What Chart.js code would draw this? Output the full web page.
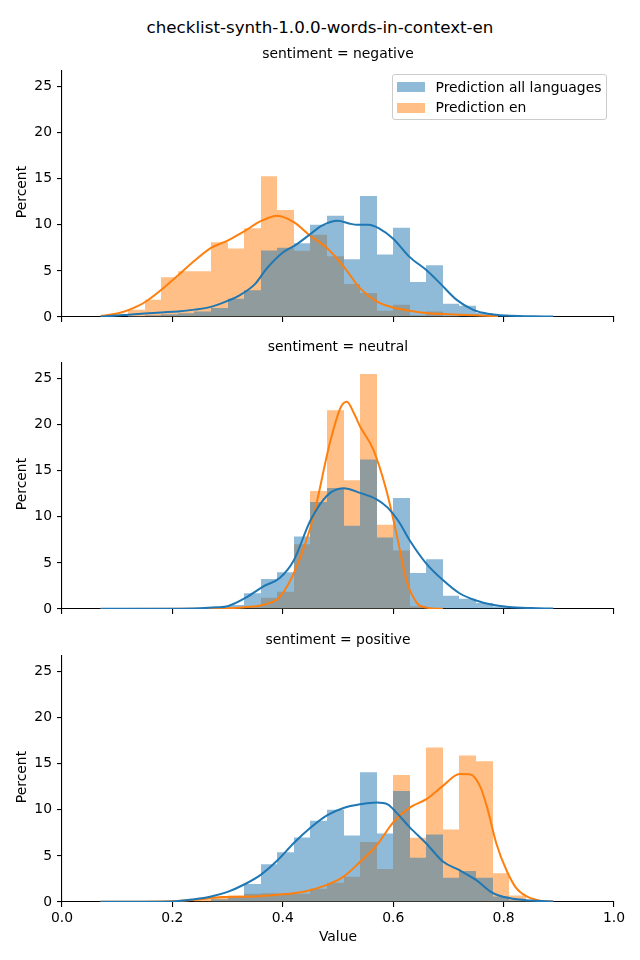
<!DOCTYPE html>
<html><head><meta charset="utf-8">
<script src="https://cdn.jsdelivr.net/npm/chart.js@4.4.1/dist/chart.umd.min.js"></script>
<style>
html,body{margin:0;padding:0;background:#fff;}
#fig{position:relative;width:640px;height:960px;overflow:hidden;font-family:'DejaVu Sans',sans-serif;color:#000;}
canvas{position:absolute;left:0;}
.t{position:absolute;white-space:nowrap;transform:translate(-50%,-50%);line-height:1;z-index:5;}
.rot{transform:translate(-50%,-50%) rotate(-90deg);}
#legend{position:absolute;left:391.5px;top:74px;width:215px;height:46px;border:1px solid #cccccc;border-radius:3px;background:rgba(255,255,255,0.8);box-sizing:border-box;z-index:6;}
.patch{position:absolute;left:4.5px;width:28px;height:10px;}
.ltxt{position:absolute;left:43px;font-size:13.9px;line-height:1;white-space:nowrap;transform:translateY(-50%);}
</style>
</head><body>
<div id="fig">
  <canvas id="c0" width="640" height="300" style="top:57px"></canvas>
  <canvas id="c1" width="640" height="300" style="top:349px"></canvas>
  <canvas id="c2" width="640" height="300" style="top:642px"></canvas>
  <div class="t" style="left:320px;top:27px;font-size:16.7px;">checklist-synth-1.0.0-words-in-context-en</div>
  <div class="t" style="left:338px;top:54px;font-size:13.9px;">sentiment = negative</div>
  <div class="t" style="left:338px;top:346.5px;font-size:13.9px;">sentiment = neutral</div>
  <div class="t" style="left:338px;top:639.5px;font-size:13.9px;">sentiment = positive</div>
  <div class="t rot" style="left:22px;top:192px;font-size:13.9px;">Percent</div>
  <div class="t rot" style="left:22px;top:484px;font-size:13.9px;">Percent</div>
  <div class="t rot" style="left:22px;top:777px;font-size:13.9px;">Percent</div>
  <div class="t" style="left:338px;top:937px;font-size:13.9px;">Value</div>
  <div id="legend">
    <div class="patch" style="top:7px;background:rgba(31,119,180,0.5);"></div>
    <div class="ltxt" style="top:12.5px;">Prediction all languages</div>
    <div class="patch" style="top:27.5px;background:rgba(255,127,14,0.5);"></div>
    <div class="ltxt" style="top:33px;">Prediction en</div>
  </div>
</div>
<script>
// ---- data ----
const binCenters = [0.135,0.165,0.195,0.225,0.255,0.285,0.315,0.345,0.375,0.405,0.435,0.465,0.495,0.525,0.555,0.585,0.615,0.645,0.675,0.705,0.735,0.765,0.795,0.825,0.855];

const negAllBars = [0.1,0.2,0.3,0.4,0.6,0.97,1.97,2.9,7.22,7.51,8.0,10.0,10.98,6.26,13.12,6.79,9.69,3.79,5.61,1.43,1.22,0.43,0.2,0.1,0.05];
const negEnBars  = [0.8,1.86,4.32,4.97,4.97,8.11,7.44,9.62,15.27,11.62,7.19,8.94,6.58,3.57,2.61,0.68,1.32,0.2,0.6,0.1,0,0,0,0,0];
const neuAllBars = [0,0,0,0,0,0.05,0.43,1.7,3.25,4.0,7.86,11.62,13.12,9.04,16.23,7.76,12.05,3.9,5.4,1.43,1.1,0.64,0.28,0.1,0.05];
const neuEnBars  = [0,0,0,0,0,0,0.1,0.3,1.21,1.86,7.04,12.8,21.57,13.98,25.5,9.15,6.36,0.3,0,0,0,0,0,0,0];
const posAllBars = [0,0,0,0,0,0.3,0.6,1.96,4.1,5.4,7.0,8.83,10.01,7.22,14.09,7.44,12.05,4.79,7.33,2.64,3.36,2.64,0.6,0.2,0.1];
const posEnBars  = [0,0,0,0,0.3,0.6,0.7,0.9,0.96,0.9,0.9,1.43,2.1,2.75,6.5,3.57,13.77,6.97,16.77,7.86,15.91,15.27,3.11,0.71,0.1];

const negAllKdeX = [0.07,0.10,0.12,0.15,0.18,0.21,0.24,0.27,0.30,0.32,0.35,0.37,0.40,0.42,0.43,0.45,0.47,0.50,0.52,0.535,0.555,0.575,0.60,0.63,0.66,0.685,0.715,0.745,0.775,0.805,0.85,0.89];
const negAllKdeY = [0.05,0.15,0.25,0.38,0.5,0.6,0.8,1.1,1.75,2.3,3.6,5.2,7.0,7.7,8.1,9.0,9.9,10.45,10.15,10.0,10.0,9.6,8.5,6.5,5.1,3.65,1.86,0.78,0.32,0.15,0.08,0.05];
const negEnKdeX  = [0.07,0.10,0.12,0.15,0.18,0.21,0.24,0.27,0.30,0.33,0.36,0.39,0.42,0.45,0.48,0.51,0.54,0.57,0.60,0.63,0.66,0.69,0.72,0.75,0.78,0.79];
const negEnKdeY  = [0.1,0.38,0.75,1.6,2.95,4.5,6.1,7.5,8.3,9.3,10.4,11.0,10.3,8.8,7.5,5.5,3.1,1.7,1.03,0.68,0.43,0.32,0.25,0.18,0.1,0.06];

const neuAllKdeX = [0.07,0.20,0.25,0.28,0.30,0.335,0.365,0.395,0.42,0.45,0.48,0.51,0.54,0.57,0.59,0.61,0.63,0.66,0.69,0.72,0.75,0.78,0.81,0.85,0.89];
const neuAllKdeY = [0.02,0.03,0.08,0.18,0.3,1.3,2.45,3.4,5.3,9.6,12.3,13.1,12.6,11.9,11.0,9.5,7.44,4.93,3.14,1.71,0.92,0.46,0.21,0.1,0.05];
const neuEnKdeX  = [0.07,0.25,0.30,0.33,0.365,0.395,0.425,0.455,0.486,0.505,0.516,0.53,0.54,0.564,0.588,0.606,0.624,0.643,0.66,0.69];
const neuEnKdeY  = [0.0,0.02,0.08,0.2,0.46,1.35,4.57,9.94,18.2,21.9,22.5,21.1,19.8,17.3,12.8,8.15,3.14,0.64,0.15,0.02];

const posAllKdeX = [0.07,0.20,0.24,0.27,0.30,0.33,0.36,0.39,0.42,0.45,0.48,0.51,0.54,0.57,0.59,0.606,0.63,0.66,0.69,0.72,0.75,0.78,0.81,0.85,0.89];
const posAllKdeY = [0.02,0.06,0.3,0.6,1.1,1.9,2.95,4.5,6.4,8.05,9.4,10.2,10.6,10.8,10.6,9.7,8.1,6.35,4.4,3.45,2.4,1.0,0.43,0.15,0.05];
const posEnKdeX  = [0.07,0.20,0.25,0.29,0.35,0.39,0.44,0.48,0.51,0.54,0.57,0.60,0.63,0.66,0.69,0.72,0.74,0.757,0.77,0.787,0.805,0.823,0.842,0.866,0.89];
const posEnKdeY  = [0.02,0.08,0.3,0.55,0.6,0.78,1.15,1.86,2.75,4.36,6.15,8.65,10.25,11.16,12.6,13.9,13.85,12.6,10.3,6.33,3.47,1.5,0.6,0.15,0.05];

const xTickValues = [0, 0.2, 0.4, 0.6, 0.8, 1.0];
const xTickLabels = ['0.0', '0.2', '0.4', '0.6', '0.8', '1.0'];
const yTickValues = [0, 5, 10, 15, 20, 25];
const yTickLabels = ['0', '5', '10', '15', '20', '25'];
const yMax = 26.77;

// ---- drawing ----
Chart.defaults.font.family = "'DejaVu Sans', sans-serif";
Chart.defaults.font.size = 13.9;
Chart.defaults.color = '#000';

const BLUE = '#1f77b4', ORANGE = '#ff7f0e';
const BLUE_A = 'rgba(31,119,180,0.5)', ORANGE_A = 'rgba(255,127,14,0.5)';

function pts(xs, ys) { return xs.map((x, i) => ({x: x, y: ys[i]})); }
function bars(vals) { return binCenters.map((c, i) => ({x: c, y: vals[i]})); }

// snap bar edges to whole pixels (like matplotlib) so adjacent translucent bars show no seams
const snapBars = {
  id: 'snapBars',
  afterDatasetsUpdate(chart) {
    chart.getSortedVisibleDatasetMetas().forEach(meta => {
      if (meta.type !== 'bar') return;
      meta.data.forEach(el => {
        const l = Math.round(el.x - el.width / 2);
        const r = Math.round(el.x + el.width / 2);
        el.x = (l + r) / 2;
        el.width = r - l;
      });
    });
  }
};

function makePanel(id, allBars, enBars, aX, aY, eX, eY, showX) {
  const ctx = document.getElementById(id).getContext('2d');
  return new Chart(ctx, {
    type: 'bar',
    data: {
      datasets: [
        {type: 'line', data: pts(aX, aY), borderColor: BLUE, borderWidth: 2, pointRadius: 0,
         cubicInterpolationMode: 'monotone', fill: false, order: 0},
        {type: 'line', data: pts(eX, eY), borderColor: ORANGE, borderWidth: 2, pointRadius: 0,
         cubicInterpolationMode: 'monotone', fill: false, order: 1},
        {type: 'bar', label: 'Prediction all languages', data: bars(allBars), backgroundColor: BLUE_A,
         borderWidth: 0, barPercentage: 1, categoryPercentage: 1, grouped: false, inflateAmount: 0, order: 2},
        {type: 'bar', label: 'Prediction en', data: bars(enBars), backgroundColor: ORANGE_A,
         borderWidth: 0, barPercentage: 1, categoryPercentage: 1, grouped: false, inflateAmount: 0, order: 3}
      ]
    },
    plugins: [snapBars],
    options: {
      responsive: false,
      animation: false,
      devicePixelRatio: 1,
      layout: {padding: {top: 10, right: 26, left: 0, bottom: 0}},
      plugins: {legend: {display: false}, tooltip: {enabled: false}, title: {display: false}},
      scales: {
        x: {
          type: 'linear', min: 0, max: 1, offset: false,
          grid: {offset: false, drawOnChartArea: false, drawTicks: true, tickLength: 5, color: '#000', lineWidth: 1.1},
          border: {display: true, color: '#000', width: 1.1},
          ticks: {padding: 3, maxRotation: 0, autoSkip: false,
                  callback: (v, i) => showX ? xTickLabels[i] : ''},
          afterBuildTicks: s => { s.ticks = xTickValues.map(v => ({value: v})); },
          afterFit: s => { s.height = 40; }
        },
        y: {
          type: 'linear', min: 0, max: yMax,
          grid: {drawOnChartArea: false, drawTicks: true, tickLength: 5, color: '#000', lineWidth: 1.1},
          border: {display: true, color: '#000', width: 1.1},
          ticks: {padding: 5, autoSkip: false, includeBounds: false,
                  callback: (v, i) => yTickLabels[i]},
          afterBuildTicks: s => { s.ticks = yTickValues.map(v => ({value: v})); },
          afterFit: s => { s.width = 62; }
        }
      }
    }
  });
}

makePanel('c0', negAllBars, negEnBars, negAllKdeX, negAllKdeY, negEnKdeX, negEnKdeY, false);
makePanel('c1', neuAllBars, neuEnBars, neuAllKdeX, neuAllKdeY, neuEnKdeX, neuEnKdeY, false);
makePanel('c2', posAllBars, posEnBars, posAllKdeX, posAllKdeY, posEnKdeX, posEnKdeY, true);
</script>
</body></html>
